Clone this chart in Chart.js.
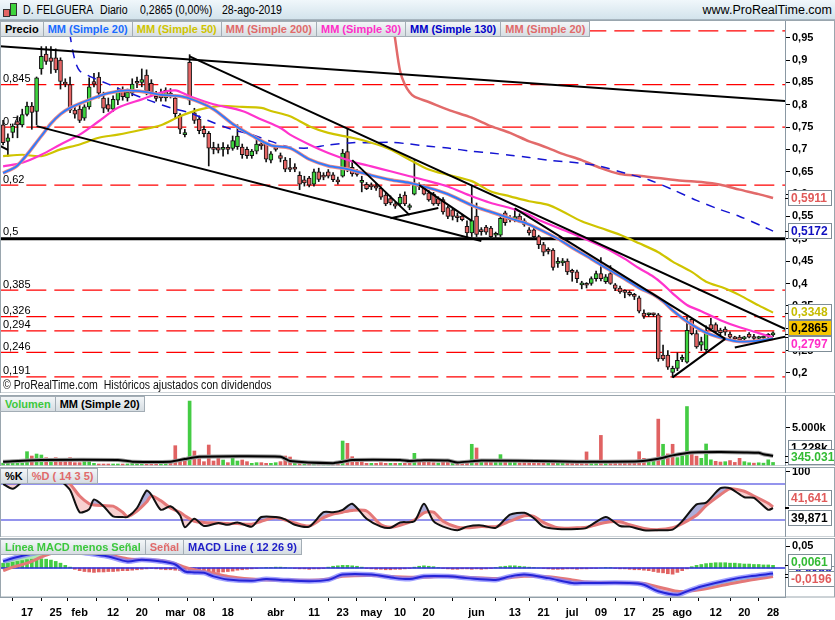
<!DOCTYPE html>
<html><head><meta charset="utf-8">
<script src="https://cdn.jsdelivr.net/npm/chart.js@4.4.1/dist/chart.umd.min.js"></script>
<style>
body{margin:0;width:835px;height:620px;overflow:hidden;background:#fff;font-family:"Liberation Sans",Arial,sans-serif;position:relative}
canvas{position:absolute;left:0;display:block}
#hdr{position:absolute;left:0;top:0;width:835px;height:19px;background:linear-gradient(#f0f7fb,#d3e3ec);border-bottom:1px solid #a7b5bf;z-index:5}
#hdr .t{position:absolute;top:3px;font-size:12px;color:#000;white-space:pre;transform:scaleX(0.88);transform-origin:0 0}
#site{position:absolute;right:3px;top:3px;font-size:12.5px;color:#000}
#ico{position:absolute;left:3px;top:2px;width:16px;height:16px}
#ico i{position:absolute;border:1px solid #333}
.leg{position:absolute;left:0;display:flex;z-index:5}
.leg span{font:bold 11px "Liberation Sans",Arial,sans-serif;padding:0 4px;height:14px;line-height:14px;border:1px solid #a3adb5;border-left:none;background:linear-gradient(#f3f6f8,#d6dde2);white-space:nowrap}
.leg span:first-child{border-left:1px solid #a3adb5}
#copy{position:absolute;left:3px;top:378px;font-size:12px;color:#111;z-index:5;white-space:pre;transform:scaleX(0.88);transform-origin:0 0}
</style></head><body>
<div id="hdr">
 <div id="ico"><i style="left:0;top:7px;width:5px;height:6px;background:#e46464"></i><i style="left:7px;top:1px;width:5px;height:11px;background:#3ed43e"></i></div>
 <span class="t" style="left:23px">D. FELGUERA</span><span class="t" style="left:100px">Diario</span><span class="t" style="left:140px">0,2865 (0,00%)</span><span class="t" style="left:222px">28-ago-2019</span>
 <span id="site">www.ProRealTime.com</span>
</div>
<canvas id="cMain" width="835" height="373" style="top:20px"></canvas>
<canvas id="cVol" width="835" height="71" style="top:395px"></canvas>
<canvas id="cSto" width="835" height="70" style="top:467px"></canvas>
<canvas id="cMacd" width="835" height="82" style="top:538px"></canvas>
<div class="leg" style="top:21px"><span style="color:#000">Precio</span><span style="color:#1a6cff">MM (Simple 20)</span><span style="color:#cfc400">MM (Simple 50)</span><span style="color:#e06a6a">MM (Simple 200)</span><span style="color:#ff2ec8">MM (Simple 30)</span><span style="color:#0000c8">MM (Simple 130)</span><span style="color:#e06a6a">MM (Simple 20)</span></div>
<div id="copy">© ProRealTime.com  Históricos ajustados con dividendos</div>
<div class="leg" style="top:396px"><span style="color:#3cc83c">Volumen</span><span style="color:#000">MM (Simple 20)</span></div>
<div class="leg" style="top:468px"><span style="color:#000">%K</span><span style="color:#e06a6a">%D ( 14 3 5)</span></div>
<div class="leg" style="top:539px"><span style="color:#3cc83c">Línea MACD menos Señal</span><span style="color:#e06a6a">Señal</span><span style="color:#2020c8">MACD Line ( 12 26 9)</span></div>
<script>
// ---------------- DATA ----------------
// trading-day index: 0 = 17-ene-2019, first candle = 10-ene (-5), last = 28-ago (156)
const FIRST_DAY = -5;
const tickIdx    = [0,6,11,18,24,31,36,42,52,60,66,72,78,84,94,102,108,114,120,126,132,137,144,150,156];
const tickLabels = ['17','25','feb','12','20','mar','08','18','abr','11','23','may','10','20','jun','13','21','jul','09','17','25','ago','12','20','28'];

const open = [.755,.718,.738,.762,.755,.778,.797,.785,.880,.913,.905,.905,.900,.850,.845,.788,.790,.770,.795,.852,.862,.815,.800,.790,.810,.832,.815,.826,.852,.850,.866,.848,.818,.826,.815,.826,.815,.776,.733,.895,.782,.768,.745,.736,.703,.704,.700,.702,.702,.706,.705,.700,.686,.696,.711,.712,.676,.703,.686,.676,.658,.660,.642,.632,.636,.622,.650,.640,.650,.643,.632,.640,.695,.660,.650,.626,.622,.620,.618,.613,.598,.590,.578,.578,.598,.570,.600,.620,.617,.603,.600,.590,.588,.570,.565,.550,.551,.528,.513,.551,.520,.526,.524,.508,.508,.558,.546,.545,.551,.540,.520,.520,.505,.487,.476,.475,.445,.446,.450,.428,.426,.397,.398,.400,.411,.422,.404,.422,.397,.390,.381,.380,.372,.368,.334,.330,.331,.330,.240,.240,.201,.210,.230,.224,.320,.288,.262,.252,.308,.308,.296,.298,.287,.277,.280,.276,.287,.281,.277,.278,.282,.285];
const high = [.765,.735,.757,.775,.790,.806,.805,.862,.930,.930,.930,.925,.905,.858,.862,.800,.800,.800,.860,.870,.872,.828,.815,.820,.838,.840,.835,.858,.862,.880,.878,.856,.830,.835,.838,.836,.822,.780,.745,.912,.792,.775,.752,.740,.716,.712,.715,.710,.730,.755,.712,.705,.700,.725,.718,.716,.695,.708,.692,.682,.680,.668,.650,.640,.640,.656,.658,.648,.655,.648,.638,.700,.745,.672,.655,.640,.626,.625,.624,.616,.604,.596,.582,.600,.605,.578,.675,.625,.620,.608,.604,.594,.592,.573,.568,.558,.555,.540,.620,.580,.525,.530,.528,.515,.552,.562,.552,.568,.556,.545,.525,.524,.508,.492,.480,.478,.458,.456,.455,.432,.430,.405,.402,.415,.428,.458,.420,.440,.400,.394,.386,.384,.378,.372,.341,.334,.334,.333,.262,.250,.215,.245,.240,.325,.322,.295,.280,.305,.322,.312,.300,.303,.292,.282,.284,.282,.290,.286,.282,.283,.288,.292];
const low  = [.710,.685,.726,.726,.750,.775,.745,.755,.868,.890,.870,.872,.835,.840,.782,.770,.760,.765,.790,.840,.815,.782,.785,.785,.800,.810,.808,.820,.838,.840,.822,.822,.808,.808,.808,.815,.770,.735,.728,.800,.758,.735,.728,.663,.690,.692,.685,.690,.698,.700,.680,.680,.680,.690,.700,.672,.670,.696,.672,.650,.650,.650,.610,.618,.616,.618,.628,.632,.636,.628,.622,.638,.650,.640,.640,.605,.610,.610,.608,.588,.574,.576,.568,.574,.574,.565,.598,.610,.598,.584,.575,.574,.555,.545,.542,.538,.540,.505,.505,.505,.508,.510,.500,.500,.505,.530,.538,.538,.536,.528,.508,.500,.478,.462,.466,.430,.436,.440,.420,.405,.402,.388,.390,.396,.405,.406,.400,.398,.384,.378,.368,.372,.364,.334,.322,.326,.326,.226,.228,.208,.190,.205,.225,.222,.285,.255,.250,.248,.295,.290,.284,.284,.276,.272,.270,.272,.278,.274,.274,.275,.278,.281];
const close = [.715,.726,.752,.755,.778,.797,.783,.860,.908,.897,.897,.878,.852,.846,.788,.779,.765,.795,.840,.846,.826,.792,.790,.812,.830,.818,.828,.846,.848,.856,.830,.828,.814,.815,.832,.820,.780,.745,.737,.810,.765,.742,.735,.703,.700,.698,.702,.700,.720,.730,.688,.686,.696,.712,.708,.678,.690,.700,.680,.656,.655,.656,.622,.625,.620,.650,.633,.638,.640,.632,.627,.692,.655,.645,.644,.631,.612,.616,.613,.593,.578,.580,.573,.593,.578,.573,.620,.617,.600,.587,.578,.578,.560,.550,.550,.547,.543,.513,.541,.510,.516,.515,.505,.510,.546,.536,.543,.548,.540,.532,.513,.505,.487,.470,.472,.436,.448,.450,.426,.425,.411,.397,.396,.411,.422,.411,.415,.400,.389,.381,.380,.375,.371,.338,.327,.330,.330,.231,.231,.213,.210,.228,.235,.295,.288,.258,.270,.293,.298,.293,.290,.291,.280,.276,.274,.278,.280,.277,.278,.280,.284,.2865];
// volume in thousands
const volume = [250,250,250,250,250,1800,1215,1485,1350,990,585,990,675,675,990,315,315,540,540,225,135,135,135,135,135,135,150,450,225,225,225,360,450,225,225,225,2610,675,675,8640,1890,900,450,2700,540,900,675,315,1125,540,675,450,225,315,315,225,225,315,450,1215,1080,225,315,225,225,225,135,135,225,225,225,3240,2925,1125,900,675,225,225,225,315,225,225,225,225,225,315,1575,500,700,450,300,250,400,500,350,300,250,400,2800,2300,700,500,400,350,1400,600,450,500,300,600,400,350,600,500,400,500,450,300,500,450,350,300,1770,600,450,4000,600,500,450,600,550,500,600,1800,900,500,700,6200,2800,1500,2800,1000,1200,7900,1500,1200,900,2840,700,500,400,450,600,350,900,450,300,250,300,250,700,345.031];
const volMA = [[-5,450],[3,675],[19,675],[22,450],[30,450],[33,800],[36,1125],[53,1125],[55,540],[64,250],[66,450],[68,675],[78,675],[80,540],[83,650],[88,600],[90,350],[93,500],[95,600],[110,500],[115,450],[120,450],[128,500],[132,850],[135,1300],[139,1700],[145,1750],[150,1700],[153,1650],[154,1450],[156,1228]];

// moving averages: [day index, value]
const ma20 = [[-5,.647],[-2,.664],[3,.730],[5,.758],[7,.779],[9,.793],[13,.811],[17,.826],[21,.832],[25,.828],[28,.822],[32,.819],[35,.810],[39,.790],[43,.757],[47,.731],[51,.709],[55,.703],[59,.678],[63,.663],[67,.656],[72,.642],[76,.632],[80,.625],[84,.614],[88,.600],[93,.575],[97,.560],[101,.546],[104,.536],[107,.522],[111,.500],[114,.480],[118,.455],[121,.435],[125,.410],[128,.390],[131,.375],[133,.360],[135,.340],[138,.315],[142,.290],[146,.276],[149,.270],[153,.272],[156,.277]];
const ma30 = [[-5,.662],[-1,.670],[3,.688],[7,.711],[11,.733],[15,.763],[19,.793],[24,.812],[28,.827],[31,.832],[34,.819],[39,.801],[45,.786],[49,.767],[53,.748],[55,.733],[59,.711],[63,.692],[68,.673],[72,.662],[76,.651],[80,.640],[84,.629],[88,.617],[93,.595],[97,.580],[101,.569],[105,.554],[107,.542],[114,.512],[121,.479],[125,.455],[128,.434],[131,.415],[133,.398],[135,.378],[138,.352],[141,.338],[145,.318],[149,.302],[153,.289],[156,.2797]];
const ma50 = [[-5,.685],[-1,.688],[3,.685],[7,.700],[11,.711],[15,.726],[19,.733],[24,.744],[28,.754],[32,.774],[36,.789],[40,.797],[45,.795],[49,.793],[51,.786],[55,.774],[59,.752],[63,.737],[68,.726],[72,.715],[76,.700],[80,.677],[84,.655],[88,.643],[93,.629],[97,.606],[101,.595],[105,.584],[109,.576],[112,.561],[116,.539],[120,.524],[124,.509],[128,.490],[132,.470],[135,.449],[139,.426],[142,.404],[146,.389],[149,.374],[153,.351],[156,.3348]];
const ma200 = [[76,1.02],[77,.945],[78,.876],[79,.845],[80,.828],[81,.818],[84,.806],[88,.789],[93,.771],[97,.752],[101,.737],[105,.718],[107,.711],[109,.703],[112,.690],[116,.676],[120,.658],[124,.645],[128,.641],[132,.636],[137,.630],[141,.627],[145,.621],[149,.610],[153,.600],[156,.5911]];
const ma130 = [[8,1.03],[9,.955],[10,.900],[11,.876],[13,.864],[17,.846],[21,.828],[26,.808],[30,.793],[34,.782],[38,.764],[43,.744],[47,.733],[51,.718],[55,.705],[59,.703],[63,.710],[68,.715],[72,.715],[76,.716],[80,.712],[84,.707],[88,.703],[93,.696],[97,.692],[101,.687],[105,.682],[109,.676],[116,.669],[120,.662],[125,.647],[130,.632],[135,.610],[140,.586],[144,.569],[149,.550],[154,.527],[156,.5172]];

// drawn objects: trend lines [[day, price],[day, price]] and horizontal levels
const trendLines = [
  [[-6,.9313],[159,.8077]],
  [[34,.908],[159,.296]],
  [[102,.568],[146,.276]],
  [[2,.752],[95,.495]],
  [[-6,.710],[-4,.699]],
  [[68,.676],[80,.553]],
  [[76,.546],[86,.569]],
  [[82,.620],[93,.540]],
  [[135,.190],[146,.276]],
  [[148,.257],[159,.282]]
];
const levelVals   = [0.965,0.845,0.75,0.62,0.385,0.326,0.294,0.246,0.191];
const levelLabels = ['','0,845','0,75','0,62','0,385','0,326','0,294','0,246','0,191'];
const midLevel = 0.5, midLabel = '0,5';
const priceTicks = [0.2,0.25,0.3,0.35,0.4,0.45,0.5,0.55,0.6,0.65,0.7,0.75,0.8,0.85,0.9,0.95];

// stochastic %K / %D
const stochIdx = [-5,-3,-1,1,3,5,7,9,11,13,14,16,18,20,21,23,25,26,28,30,32,33,35,37,40,42,44,47,49,52,54,56,59,62,64,66,68,71,74,76,78,81,83,85,87,90,92,95,98,101,104,106,108,111,115,117,121,124,126,129,132,135,137,140,142,145,147,150,152,155,156];
const stochK = [80,72,84,96,100,99,86,70,33,38,54,43,26,25,25,40,69,62,37,43,28,8,22,10,15,12,16,9,25,25,21,12,9,33,33,37,47,22,9,7,16,18,47,18,9,3,9,11,7,29,32,23,9,5,5,7,25,10,9,3,3,4,18,46,49,73,73,58,57,37,39.871];
const stochD = [96,93,95,98,99,99,93,80,60,47,45,44,43,33,26,35,50,60,52,40,33,27,18,16,15,14,14,13,18,24,20,15,10,24,30,33,36,35,12,8,11,20,32,33,18,8,7,9,9,18,27,26,16,7,7,8,16,17,12,6,4,7,14,28,44,62,72,68,60,48,41.641];
const stochLevels = [80,20];

// MACD (12 26 9)
const macdIdx = [-5,-3,0,3,5,8,11,14,17,21,24,28,31,33,35,37,39,42,47,50,53,59,63,66,72,77,80,83,88,92,98,101,104,109,114,117,126,129,132,136,138,141,147,151,156];
const macdLine = [.015,.022,.030,.037,.040,.038,.036,.031,.026,.015,.019,.015,.008,-.008,-.010,-.011,-.019,-.026,-.029,-.025,-.027,-.030,-.027,-.015,-.015,-.023,-.025,-.019,-.019,-.023,-.027,-.019,-.015,-.023,-.034,-.034,-.034,-.038,-.053,-.061,-.053,-.042,-.0265,-.019,-.0126];
const macdSignal = [-.006,.002,.011,.025,.033,.040,.042,.037,.030,.021,.019,.017,.010,.002,-.004,-.008,-.012,-.019,-.025,-.027,-.027,-.028,-.025,-.019,-.017,-.020,-.021,-.021,-.019,-.021,-.024,-.022,-.019,-.020,-.027,-.032,-.034,-.035,-.043,-.053,-.053,-.049,-.036,-.028,-.0196];
const macdHist = [.011,.011,.013,.015,.017,
 .019,.020,.021,.021,.020,.018,.015,.011,.006,.002,
 -.003,-.006,-.008,-.009,-.010,-.009,-.009,-.008,-.008,-.007,-.006,-.006,-.005,-.004,-.003,-.002,-.001,
 -.002,-.003,-.004,-.004,-.005,-.006,-.008,-.007,-.008,-.009,-.010,-.011,-.011,-.010,-.009,-.008,-.007,-.005,-.004,-.003,
 -.002,-.001,0,.001,.001,.002,.002,.001,0,-.001,
 -.002,-.002,-.003,-.002,-.002,-.001,
 .002,.004,.005,.006,.006,.005,.004,.002,
 -.001,-.002,-.003,-.003,-.004,-.004,-.003,-.003,-.002,-.001,
 .002,.004,.005,.004,.003,.001,
 -.001,-.002,-.003,-.003,-.002,-.002,-.003,-.002,-.003,-.002,-.001,
 .001,.003,.004,.005,.005,.004,.003,.002,.001,0,-.001,
 -.002,-.003,-.003,-.003,-.002,-.002,-.003,-.002,-.002,-.001,-.001,0,
 .001,.001,
 -.001,-.002,-.002,-.003,-.004,-.004,-.005,-.006,-.008,-.010,-.011,-.013,-.014,-.010,-.006,-.002,
 .003,.006,.008,.010,.011,.012,.012,.012,.011,.011,.010,.009,.009,.008,.008,.007,.007,.0061];
const macdHistLast = 0.0061;

// ---------------- RENDER ----------------
const FONT = '"Liberation Sans", Arial, sans-serif';
Chart.defaults.font.family = FONT;
const X_MIN = -5.65, X_MAX = 158.5;
const UP = '#3ed43e', DN = '#e46464', VUP = '#44cc44', VDN = '#e06262';
const days = open.map((_, i) => FIRST_DAY + i);
const P = a => a.map(([x, y]) => ({x, y}));
const Z = (xs, ys) => xs.map((x, i) => ({x, y: ys[i]}));
const hline = v => [{x: -6, y: v}, {x: 159, y: v}];
const fmt4 = v => v.toFixed(4).replace('.', ',');
const last = a => a[a.length - 1];

function line(data, color, width, order, extra) {
  return Object.assign({type: 'line', data, borderColor: color, borderWidth: width, pointRadius: 0,
    fill: false, tension: 0, order, clip: 0}, extra || {});
}
function yAxis(min, max, ticks, cb) {
  return {type: 'linear', position: 'right', min, max,
    afterBuildTicks: s => { s.ticks = ticks.map(v => ({value: v})); },
    afterFit: s => { s.width = 50; s.paddingTop = 0; s.paddingBottom = 0; },
    grid: {drawOnChartArea: false, drawTicks: true, tickLength: 5, tickColor: '#000'},
    border: {display: true, color: '#8a98a3'},
    ticks: {color: '#000', padding: 2, font: {size: 11, weight: 'bold'}, callback: cb}};
}
const xHidden = {type: 'linear', min: X_MIN, max: X_MAX, display: false, offset: false};

const framePlugin = {id: 'frame', afterDraw(chart) {
  const c = chart.ctx; c.save(); c.strokeStyle = '#9aa6ae'; c.lineWidth = 1;
  c.strokeRect(0.5, 0.5, chart.width - 1, chart.chartArea.bottom - 0.5); c.restore();
}};
const vboxPlugin = {id: 'vbox', afterDraw(chart, args, o) {
  if (!o || !o.items) return;
  const ctx = chart.ctx, ys = chart.scales.y, ca = chart.chartArea, h = 16;
  const top = ca.top + 1, bot = ca.bottom - 1;
  const clamp = y => Math.min(Math.max(y, top + h / 2), bot - h / 2);
  const items = o.items.map(it => Object.assign({}, it, {raw: ys.getPixelForValue(it.v), y: ys.getPixelForValue(it.v)}));
  const spread = items.filter(i => !i.free).sort((a, b) => a.y - b.y);
  for (let k = 0; k < 80; k++) {
    for (let i = 1; i < spread.length; i++) {
      const d = spread[i].y - spread[i - 1].y;
      if (d < o.gap) { const m = (o.gap - d) / 2; spread[i].y += m; spread[i - 1].y -= m; }
    }
    spread.forEach(it => { it.y = clamp(it.y); });
  }
  const free = items.filter(i => i.free); free.forEach(it => { it.y = clamp(it.y); });
  ctx.save();
  ctx.font = 'bold 12px ' + FONT; ctx.textBaseline = 'middle'; ctx.textAlign = 'left';
  free.concat(spread).forEach(it => {
    const w = Math.max(44, Math.ceil(ctx.measureText(it.text).width) + 6), x0 = ca.right + 3;
    const ry = Math.round(it.raw) + 0.5;
    ctx.strokeStyle = '#000'; ctx.lineWidth = 1;
    ctx.beginPath(); ctx.moveTo(ca.right, ry); ctx.lineTo(ca.right + 4, ry); ctx.stroke();
    const by = Math.round(it.y - h / 2);
    ctx.fillStyle = it.bg || '#fff'; ctx.fillRect(x0, by, w, h);
    ctx.strokeStyle = '#7f8d97'; ctx.strokeRect(x0 + 0.5, by + 0.5, w - 1, h - 1);
    ctx.fillStyle = it.color; ctx.fillText(it.text, x0 + 3, by + h / 2 + 1);
  });
  ctx.restore();
}};
const levelLabelPlugin = {id: 'lvl', beforeDatasetsDraw(chart) {
  const c = chart.ctx, ys = chart.scales.y, x = chart.chartArea.left + 3;
  c.save(); c.font = '11px ' + FONT; c.fillStyle = '#000'; c.textBaseline = 'bottom';
  levelVals.forEach((v, i) => { if (levelLabels[i]) c.fillText(levelLabels[i], x, ys.getPixelForValue(v)); });
  c.fillText(midLabel, x, ys.getPixelForValue(midLevel) - 1);
  c.restore();
}};
const baseOpts = {responsive: false, animation: false, devicePixelRatio: 1, events: [],
  layout: {padding: 0}};

// ---------- main price chart ----------
const mainSets = [];
levelVals.forEach(v => mainSets.push(line(hline(v), '#ff0000', 1.3, 30, {borderDash: [20, 8]})));
mainSets.push(line(hline(midLevel), '#000', 3, 29));
mainSets.push({type: 'bar', data: days.map((d, i) => ({x: d, y: [low[i], high[i]]})), backgroundColor: '#111',
  barThickness: 1, grouped: false, order: 21});
mainSets.push({type: 'bar', data: days.map((d, i) => ({x: d, y: [open[i], close[i]]})),
  backgroundColor: c => close[c.dataIndex] >= open[c.dataIndex] ? UP : DN,
  borderColor: '#111', borderWidth: 1, borderSkipped: false, barThickness: 4, minBarLength: 2, grouped: false, order: 20});
mainSets.push(line(P(ma200), '#e26a6a', 2.5, 9, {tension: 0.3}));
mainSets.push(line(P(ma130), '#1414d2', 1.5, 8, {tension: 0.3, borderDash: [9, 7]}));
mainSets.push(line(P(ma50), '#cfc400', 2.2, 7, {tension: 0.3}));
mainSets.push(line(P(ma30), '#ff33cc', 2.2, 6, {tension: 0.3}));
mainSets.push(line(P(ma20), '#ee8a8a', 3.5, 5, {tension: 0.3}));
mainSets.push(line(P(ma20), '#2a7cff', 1.8, 4, {tension: 0.3}));
trendLines.forEach(t => mainSets.push(line(P(t), '#000', 2, 1)));

new Chart(document.getElementById('cMain'), {
  type: 'bar', data: {datasets: mainSets},
  options: Object.assign({}, baseOpts, {
    scales: {x: xHidden, y: yAxis(0.155, 0.9895, priceTicks, v => String(+v.toFixed(2)).replace('.', ','))},
    plugins: {legend: {display: false}, tooltip: {enabled: false},
      vbox: {gap: 16, items: [
        {v: last(ma200)[1], text: fmt4(last(ma200)[1]), color: '#e05a5a'},
        {v: last(ma130)[1], text: fmt4(last(ma130)[1]), color: '#1010c0'},
        {v: last(ma50)[1], text: fmt4(last(ma50)[1]), color: '#c6bc00'},
        {v: last(close), text: fmt4(last(close)), color: '#000', bg: '#f7c600'},
        {v: last(ma30)[1], text: fmt4(last(ma30)[1]), color: '#ff2ec8'}]}}
  }),
  plugins: [levelLabelPlugin, vboxPlugin, framePlugin]
});

// ---------- volume ----------
new Chart(document.getElementById('cVol'), {
  type: 'bar',
  data: {datasets: [
    line(P(volMA), '#9a9a9a', 4, 2, {tension: 0.2}),
    line(P(volMA), '#000', 2, 1, {tension: 0.2}),
    {type: 'bar', data: days.map((d, i) => ({x: d, y: volume[i]})),
      backgroundColor: c => (c.dataIndex > 0 && close[c.dataIndex] < close[c.dataIndex - 1]) ? VDN : VUP,
      barThickness: 3, grouped: false, order: 5}]},
  options: Object.assign({}, baseOpts, {
    scales: {x: xHidden, y: yAxis(-135, 9459, [5000], v => (v / 1000).toFixed(3) + 'k')},
    plugins: {legend: {display: false}, tooltip: {enabled: false},
      vbox: {gap: 9, items: [
        {v: last(volMA)[1], text: Math.round(last(volMA)[1]).toLocaleString('de-DE') + 'k', color: '#000'},
        {v: last(volume), text: Math.round(last(volume) * 1000).toLocaleString('de-DE'), color: '#33bb33'}]}}
  }),
  plugins: [vboxPlugin, framePlugin]
});

// ---------- stochastic ----------
new Chart(document.getElementById('cSto'), {
  type: 'line',
  data: {datasets: [
    line(Z(stochIdx, stochK), '#111', 2, 1, {tension: 0.25,
      fill: {target: 1, above: 'rgba(105,105,185,0.55)', below: 'rgba(240,150,150,0.45)'}}),
    line(Z(stochIdx, stochD), '#e47878', 3, 2, {tension: 0.25}),
    line(hline(stochLevels[0]), '#2b2bdc', 1.2, 5),
    line(hline(stochLevels[1]), '#2b2bdc', 1.2, 5)]},
  options: Object.assign({}, baseOpts, {
    scales: {x: xHidden, y: yAxis(-8.3, 108.3, [100], v => String(v))},
    plugins: {legend: {display: false}, tooltip: {enabled: false}, filler: {drawTime: 'beforeDatasetsDraw'},
      vbox: {gap: 20, items: [
        {v: last(stochD), text: last(stochD).toFixed(3).replace('.', ','), color: '#e05a5a'},
        {v: last(stochK), text: last(stochK).toFixed(3).replace('.', ','), color: '#000'}]}}
  }),
  plugins: [vboxPlugin, framePlugin]
});

// ---------- MACD ----------
new Chart(document.getElementById('cMacd'), {
  type: 'bar',
  data: {datasets: [
    line(Z(macdIdx, macdLine), '#2424d8', 2, 1, {tension: 0.3,
      fill: {target: 1, above: 'rgba(150,225,150,0.75)', below: 'rgba(238,160,160,0.6)'}}),
    line(Z(macdIdx, macdSignal), '#e47878', 3, 3, {tension: 0.3}),
    line(Z(macdIdx, macdLine), 'rgba(130,130,255,0.75)', 5, 2, {tension: 0.3}),
    line(hline(0), '#2b2bdc', 1.5, 4),
    {type: 'bar', data: days.map((d, i) => ({x: d, y: macdHist[i]})),
      backgroundColor: c => macdHist[c.dataIndex] >= 0 ? VUP : VDN, barThickness: 3, grouped: false, order: 6}]},
  options: Object.assign({}, baseOpts, {
    scales: {
      x: {type: 'linear', min: X_MIN, max: X_MAX, offset: false, position: 'bottom',
        afterBuildTicks: s => { s.ticks = tickIdx.map(v => ({value: v})); },
        afterFit: s => { s.height = 23; s.paddingLeft = 0; s.paddingRight = 0; },
        grid: {drawOnChartArea: false, drawTicks: true, tickLength: 4, tickColor: '#000'},
        border: {display: true, color: '#8a98a3'},
        ticks: {autoSkip: false, maxRotation: 0, padding: 5, color: '#000', font: {size: 11, weight: 'bold'},
          callback: (v, i) => tickLabels[i]}},
      y: yAxis(-0.0659, 0.0682, [0.05], v => String(v).replace('.', ','))},
    plugins: {legend: {display: false}, tooltip: {enabled: false}, filler: {drawTime: 'beforeDatasetsDraw'},
      vbox: {gap: 17, items: [
        {v: last(macdLine), text: fmt4(last(macdLine)), color: '#2020c8', free: true},
        {v: macdHistLast, text: fmt4(macdHistLast), color: '#33bb33'},
        {v: last(macdSignal), text: fmt4(last(macdSignal)), color: '#e05a5a'}]}}
  }),
  plugins: [vboxPlugin, framePlugin]
});
</script>
</body></html>
